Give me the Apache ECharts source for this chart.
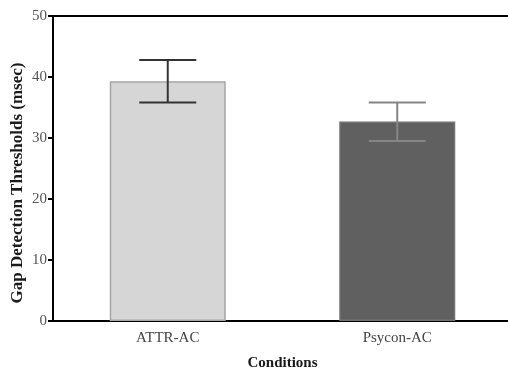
<!DOCTYPE html>
<html>
<head>
<meta charset="utf-8">
<script src="https://cdn.jsdelivr.net/npm/echarts@6/dist/echarts.min.js"></script>
<style>
  html, body { margin: 0; padding: 0; background: #fff; }
  #chart { width: 508px; height: 371px; }
</style>
</head>
<body>
<div id="chart"></div>
<script>
// data
var categories = ['ATTR-AC', 'Psycon-AC'];
var means = [39.3, 32.7];
var errHigh = [42.8, 35.8];
var errLow = [35.8, 29.5];
var yTicks = [0, 10, 20, 30, 40, 50];

var barFill = ['#d6d6d6', '#606060'];
var barEdge = ['#a6a6a6', '#727272'];
var errColor = ['#333333', '#858585'];

var serif = '"Liberation Serif", "DejaVu Serif", serif';

var myChart = echarts.init(document.getElementById('chart'));

var errData = categories.map(function (c, i) {
    return [i, errLow[i], errHigh[i]];
});

var option = {
    animation: false,
    backgroundColor: '#ffffff',
    grid: { left: 53, right: -4, top: 16, bottom: 50, containLabel: false, outerBoundsMode: 'none' },
    xAxis: [{
        type: 'category',
        data: categories,
        position: 'bottom',
        name: 'Conditions',
        nameLocation: 'middle',
        nameGap: 35,
        nameTextStyle: { fontFamily: serif, fontWeight: 'bold', fontSize: 15, color: '#1a1a1a' },
        axisLine: { lineStyle: { color: '#000', width: 2 } },
        axisTick: { alignWithLabel: true, length: 5, lineStyle: { color: '#000', width: 2 } },
        axisLabel: { fontFamily: serif, fontSize: 15, color: '#444', margin: 10 }
    }, {
        type: 'category',
        data: categories,
        position: 'top',
        axisLine: { lineStyle: { color: '#000', width: 2 } },
        axisTick: { show: false },
        axisLabel: { show: false }
    }],
    yAxis: {
        type: 'value',
        min: yTicks[0],
        max: yTicks[yTicks.length - 1],
        interval: 10,
        splitLine: { show: false },
        axisLine: { show: true, lineStyle: { color: '#000', width: 2 } },
        axisTick: { show: true, length: 5, lineStyle: { color: '#000', width: 2 } },
        axisLabel: { fontFamily: serif, fontSize: 15, color: '#555', margin: 6 }
    },
    graphic: [{
        type: 'text',
        x: 18,
        y: 183,
        rotation: Math.PI / 2,
        style: {
            text: 'Gap Detection Thresholds (msec)',
            fontFamily: serif,
            fontWeight: 'bold',
            fontSize: 17,
            fill: '#1a1a1a',
            textAlign: 'center',
            textVerticalAlign: 'middle'
        }
    }],
    series: [{
        type: 'bar',
        barWidth: 116,
        data: means.map(function (v, i) {
            return {
                value: v,
                itemStyle: { color: barFill[i], borderColor: barEdge[i], borderWidth: 1.5 }
            };
        })
    }, {
        type: 'custom',
        data: errData,
        z: 5,
        renderItem: function (params, api) {
            var idx = api.value(0);
            var hi = api.coord([idx, api.value(2)]);
            var lo = api.coord([idx, api.value(1)]);
            var half = 28.5;
            var style = { stroke: errColor[idx], lineWidth: 2 };
            return {
                type: 'group',
                children: [
                    { type: 'line', shape: { x1: hi[0], y1: hi[1], x2: lo[0], y2: lo[1] }, style: style },
                    { type: 'line', shape: { x1: hi[0] - half, y1: hi[1], x2: hi[0] + half, y2: hi[1] }, style: style },
                    { type: 'line', shape: { x1: lo[0] - half, y1: lo[1], x2: lo[0] + half, y2: lo[1] }, style: style }
                ]
            };
        }
    }]
};

myChart.setOption(option, true);
</script>
</body>
</html>
